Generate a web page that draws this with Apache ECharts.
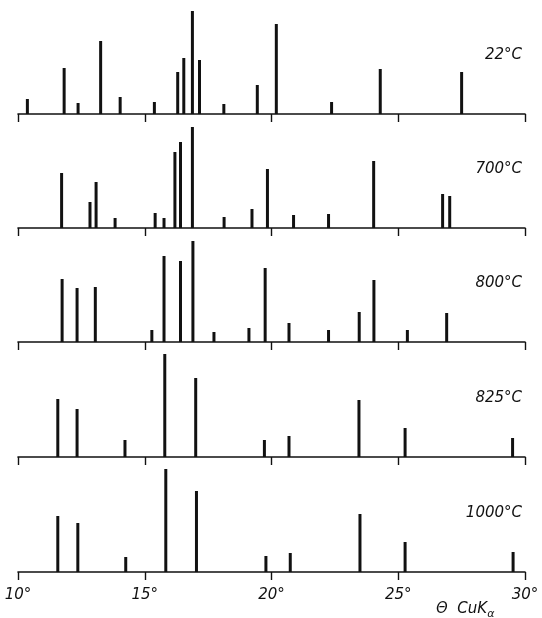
<!DOCTYPE html>
<html>
<head>
<meta charset="utf-8">
<script src="https://cdn.jsdelivr.net/npm/echarts@6/dist/echarts.min.js"></script>
<style>
  html, body { margin: 0; padding: 0; background: #fff; }
  #main { width: 542px; height: 618px; }
</style>
</head>
<body>
<div id="main"></div>
<script>
// panel labels (sample temperature), top to bottom
const temps = ['22°C', '700°C', '800°C', '825°C', '1000°C'];

// peaks as [theta (deg), relative intensity]
const peaks22 = [[10.37, 15], [11.82, 46], [12.37, 11], [13.26, 73], [14.03, 17], [15.38, 12],
  [16.30, 42], [16.54, 56], [16.88, 103], [17.16, 54], [18.12, 10], [19.44, 29], [20.19, 90],
  [22.37, 12], [24.29, 45], [27.50, 42]];
const peaks700 = [[11.72, 55], [12.84, 26], [13.08, 46], [13.83, 10], [15.41, 15], [15.76, 10],
  [16.19, 76], [16.41, 86], [16.88, 101], [18.13, 11], [19.23, 19], [19.84, 59], [20.87, 13],
  [22.25, 14], [24.03, 67], [26.75, 34], [27.03, 32]];
const peaks800 = [[11.74, 63], [12.33, 54], [13.05, 55], [15.28, 12], [15.76, 86], [16.41, 81],
  [16.90, 101], [17.73, 10], [19.11, 14], [19.75, 74], [20.69, 19], [22.25, 12], [23.46, 30],
  [24.04, 62], [25.36, 12], [26.91, 29]];
const peaks825 = [[11.57, 58], [12.33, 48], [14.22, 17], [15.79, 103], [17.01, 79], [19.72, 17],
  [20.69, 21], [23.45, 57], [25.27, 29], [29.51, 19]];
const peaks1000 = [[11.57, 56], [12.36, 49], [14.25, 15], [15.83, 103], [17.04, 81], [19.78, 16],
  [20.74, 19], [23.49, 58], [25.27, 30], [29.53, 20]];

const allPeaks = [peaks22, peaks700, peaks800, peaks825, peaks1000];

// x axis range and ticks
const xMin = 10, xMax = 30, xStep = 5;

const font = '"DejaVu Sans", sans-serif';
const baselines = [114, 228, 342, 457, 572];
const panelH = 110;

var myChart = echarts.init(document.getElementById('main'));

const grids = [], xAxes = [], yAxes = [], series = [], graphics = [];

allPeaks.forEach((peaks, i) => {
  const last = i === allPeaks.length - 1;
  grids.push({ left: 18, right: 17, top: baselines[i] - panelH, height: panelH });
  xAxes.push({
    type: 'value', gridIndex: i, min: xMin, max: xMax, interval: xStep,
    axisLine: { show: true, lineStyle: { color: '#111', width: 1.6 } },
    axisTick: { show: true, inside: false, length: 8, lineStyle: { color: '#111', width: 1.4 } },
    splitLine: { show: false },
    axisLabel: {
      show: last, margin: 16, color: '#111', fontSize: 15, fontStyle: 'italic',
      fontFamily: font, formatter: v => v + '°'
    }
  });
  yAxes.push({ type: 'value', gridIndex: i, min: 0, max: panelH, show: false });
  series.push({
    type: 'bar', xAxisIndex: i, yAxisIndex: i, barWidth: 3,
    itemStyle: { color: '#111' }, data: peaks, silent: true
  });
  graphics.push({
    type: 'text', right: 20, top: baselines[i] - 66,
    style: { text: temps[i], fill: '#111', font: 'italic 15px ' + font }
  });
});

graphics.push({
  type: 'text', left: 436, top: 602,
  style: {
    text: 'Θ  CuK{s|α}', fill: '#111', font: 'italic 15px ' + font,
    rich: { s: { fontSize: 11, fontStyle: 'italic', fontFamily: font, padding: [10, 0, 0, 0], fill: '#111' } }
  }
});

const option = {
  animation: false,
  backgroundColor: '#fff',
  grid: grids,
  xAxis: xAxes,
  yAxis: yAxes,
  series: series,
  graphic: graphics
};

myChart.setOption(option);
</script>
</body>
</html>
